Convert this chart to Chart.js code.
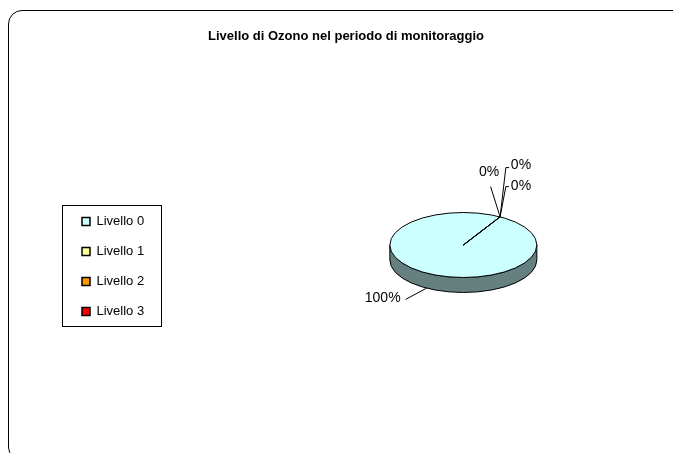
<!DOCTYPE html>
<html>
<head>
<meta charset="utf-8">
<script src="https://cdn.jsdelivr.net/npm/chart.js@4/dist/chart.umd.min.js"></script>
<style>
  html, body { margin: 0; padding: 0; background: #fff; overflow: hidden; }
  body { width: 673px; height: 453px; position: relative; }
  #frame {
    position: absolute; left: 8px; top: 10px; width: 720px; height: 451px;
    box-sizing: border-box; border: 1px solid #000; border-radius: 14px 0 0 14px;
  }
  #ozono { position: absolute; left: 0; top: 0; }
</style>
</head>
<body>
<div id="frame"></div>
<canvas id="ozono" width="673" height="453"></canvas>
<script>
const livelli = ['Livello 0', 'Livello 1', 'Livello 2', 'Livello 3'];
const percentuali = [100, 0, 0, 0];

const colori = ['#CCFFFF', '#FFFF99', '#FF9900', '#FF0000'];
const coloriLato = ['#668080', '#80804C', '#804C00', '#800000'];
const fontArial = 'Liberation Sans, Arial, sans-serif';

// finto 3D: schiaccia la torta e aggiunge il bordo laterale
const torta3d = {
    id: 'torta3d',
    beforeDatasetsDraw(chart, args, o) {
        const ctx = chart.ctx;
        const arcs = chart.getDatasetMeta(0).data;
        const {x, y, outerRadius: r} = arcs[0];
        const cx = x + o.shiftX, cy = y + o.shiftY, ry = r * o.tilt;
        ctx.save();
        arcs.forEach((arc, i) => {
            const s = arc.startAngle, e = arc.endAngle;
            for (let k = -1; k <= 2; k++) {
                const a = Math.max(s, 2 * Math.PI * k);
                const b = Math.min(e, Math.PI + 2 * Math.PI * k);
                if (b <= a) continue;
                ctx.beginPath();
                ctx.ellipse(cx, cy + o.depth, r, ry, 0, a, b);
                ctx.ellipse(cx, cy, r, ry, 0, b, a, true);
                ctx.closePath();
                ctx.fillStyle = o.sideColors[i];
                ctx.fill();
                ctx.strokeStyle = '#000';
                ctx.lineWidth = 1;
                ctx.stroke();
            }
        });
        ctx.restore();
        ctx.save();
        ctx.translate(cx, cy);
        ctx.scale(1, o.tilt);
        ctx.translate(-x, -y);
    },
    afterDatasetsDraw(chart, args, o) {
        const ctx = chart.ctx;
        ctx.restore();
        const arcs = chart.getDatasetMeta(0).data;
        const {x, y, outerRadius: r} = arcs[0];
        const cx = x + o.shiftX, cy = y + o.shiftY, ry = r * o.tilt;
        const values = chart.data.datasets[0].data;
        const total = values.reduce((a, b) => a + b, 0);

        ctx.save();
        ctx.strokeStyle = '#000';
        ctx.lineWidth = 1;
        ctx.beginPath();
        ctx.ellipse(cx, cy, r, ry, 0, 0, 2 * Math.PI);
        ctx.stroke();
        arcs.forEach(arc => {
            ctx.beginPath();
            ctx.moveTo(cx, cy);
            ctx.lineTo(cx + r * Math.cos(arc.startAngle), cy + ry * Math.sin(arc.startAngle));
            ctx.stroke();
        });

        // etichette percentuali con linee guida
        ctx.font = o.labelFont;
        ctx.fillStyle = '#000';
        ctx.textBaseline = 'middle';
        arcs.forEach((arc, i) => {
            const lab = o.labels[i];
            const mid = (arc.startAngle + arc.endAngle) / 2;
            const px = cx + r * Math.cos(mid);
            const py = cy + ry * Math.sin(mid) + (Math.sin(mid) > 0 ? o.depth : 0);
            const tx = px + lab.dx, ty = py + lab.dy;
            ctx.textAlign = lab.align;
            ctx.fillText(Math.round(values[i] / total * 100) + '%', tx, ty);
            ctx.beginPath();
            ctx.moveTo(tx + lab.line[0][0], ty + lab.line[0][1]);
            lab.line.slice(1).forEach(p => ctx.lineTo(tx + p[0], ty + p[1]));
            ctx.lineTo(px, py);
            ctx.stroke();
        });
        ctx.restore();
    },
    afterDraw(chart) {
        // cornice della legenda
        const boxes = chart.legend.legendHitBoxes;
        if (!boxes || !boxes.length) return;
        const first = boxes[0], last = boxes[boxes.length - 1];
        const right = Math.max(...boxes.map(b => b.left + b.width));
        const ctx = chart.ctx;
        const l = Math.round(first.left - 20), t = Math.round(first.top - 10);
        ctx.save();
        ctx.strokeStyle = '#000';
        ctx.lineWidth = 1;
        ctx.strokeRect(l + 0.5, t + 0.5, Math.round(right + 16.5) - l, Math.round(last.top + last.height + 8) - t);
        ctx.restore();
    }
};

new Chart(document.getElementById('ozono'), {
    type: 'pie',
    data: {
        labels: livelli,
        datasets: [{
            data: percentuali,
            backgroundColor: colori,
            borderWidth: 0,
            clip: false
        }]
    },
    options: {
        responsive: false,
        animation: false,
        radius: 73.5,
        rotation: 30,
        layout: { padding: { top: 14, left: 65, right: 46, bottom: 107 } },
        plugins: {
            title: {
                display: true,
                text: 'Livello di Ozono nel periodo di monitoraggio',
                color: '#000',
                font: { family: fontArial, size: 13, weight: 'bold' },
                padding: { top: 15, bottom: 153.4 }
            },
            legend: {
                position: 'left',
                align: 'start',
                fullSize: false,
                onClick: null,
                labels: {
                    boxWidth: 8,
                    boxHeight: 8,
                    padding: 17,
                    color: '#000',
                    font: { family: fontArial, size: 13 },
                    generateLabels: chart => chart.data.labels.map((text, i) => ({
                        text,
                        fillStyle: colori[i],
                        strokeStyle: '#000',
                        lineWidth: 1.5,
                        fontColor: '#000',
                        hidden: false,
                        index: i
                    }))
                }
            },
            tooltip: { enabled: false },
            torta3d: {
                tilt: 0.442,
                depth: 15,
                shiftX: 72.75,
                shiftY: -27,
                sideColors: coloriLato,
                labelFont: '14px ' + fontArial,
                labels: [
                    { dx: -26, dy: 10, align: 'right', line: [[5, 1.3]] },
                    { dx: -11, dy: -45, align: 'center', line: [[1.5, 14.7]] },
                    { dx: 10.75, dy: -52, align: 'left', line: [[-1.7, 2.7], [-5, 2.7]] },
                    { dx: 10.75, dy: -31, align: 'left', line: [[-2, 0.7], [-5, 0.7]] }
                ]
            }
        }
    },
    plugins: [torta3d]
});
</script>
</body>
</html>
